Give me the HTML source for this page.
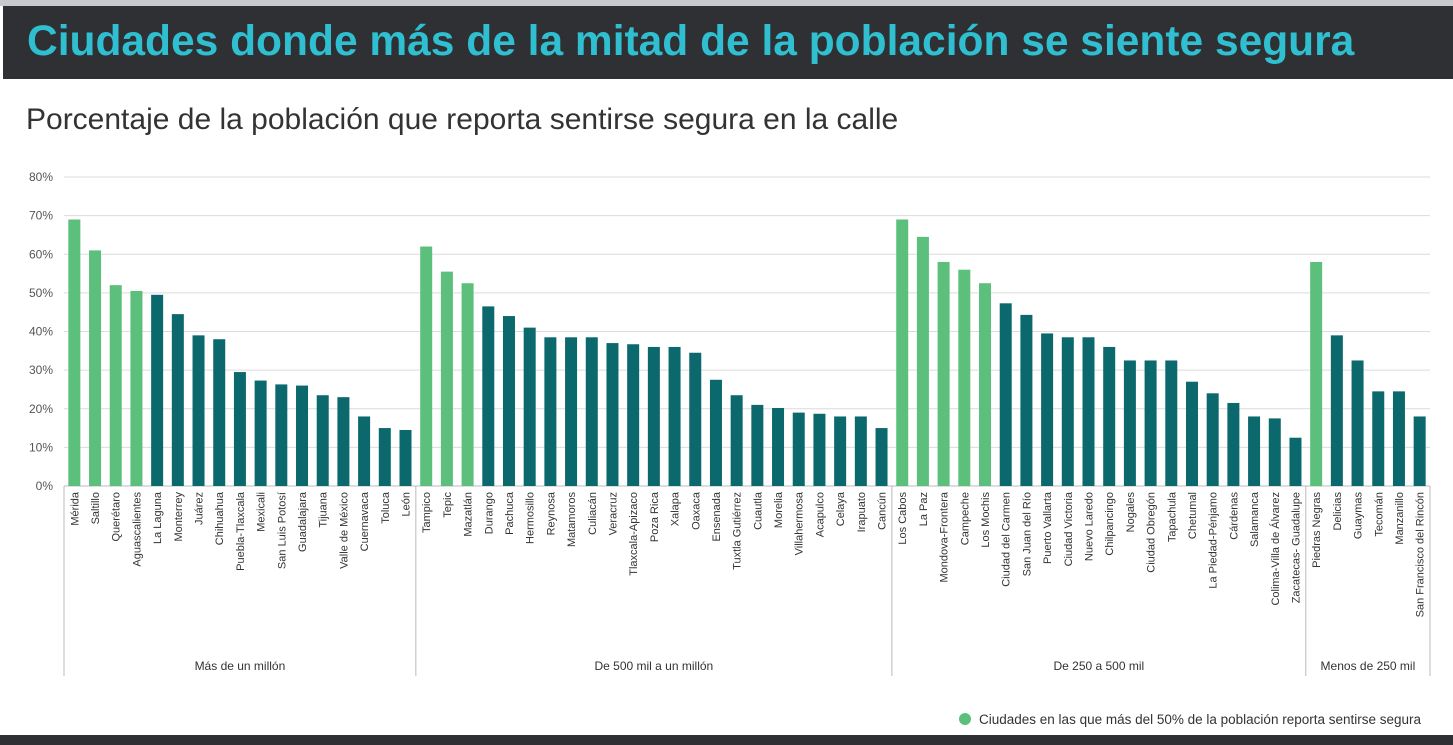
<!DOCTYPE html>
<html><head><meta charset="utf-8">
<style>
body{margin:0;width:1453px;height:745px;overflow:hidden;background:#fff;font-family:"Liberation Sans",sans-serif;position:relative}
#top{position:absolute;left:0;top:0;width:1453px;height:6px;background:#c8c9cb}
#hdr{position:absolute;left:3px;top:6px;width:1450px;height:73px;background:#2e3033}
#title{position:absolute;left:24px;top:12px;font-size:42.5px;font-weight:bold;color:#2fbfd0;white-space:nowrap}
#sub{position:absolute;left:26px;top:103px;font-size:30px;color:#333;white-space:nowrap}
#bot{position:absolute;left:0;top:735px;width:1453px;height:10px;background:#2e3033}
svg{position:absolute;left:0;top:0}
</style></head><body>
<div id="top"></div>
<div id="hdr"><div id="title">Ciudades donde más de la mitad de la población se siente segura</div></div>
<div id="sub">Porcentaje de la población que reporta sentirse segura en la calle</div>
<div id="bot"></div>
<svg id="chart" width="1453" height="745"></svg>
<script>
const groups=["Más de un millón","De 500 mil a un millón","De 250 a 500 mil","Menos de 250 mil"];
const cities1=["Mérida","Saltillo","Querétaro","Aguascalientes","La Laguna","Monterrey","Juárez","Chihuahua","Puebla-Tlaxcala","Mexicali","San Luis Potosí","Guadalajara","Tijuana","Valle de México","Cuernavaca","Toluca","León"];
const values1=[69,61,52,50.5,49.5,44.5,39,38,29.5,27.3,26.3,26,23.5,23,18,15,14.5];
const cities2=["Tampico","Tepic","Mazatlán","Durango","Pachuca","Hermosillo","Reynosa","Matamoros","Culiacán","Veracruz","Tlaxcala-Apizaco","Poza Rica","Xalapa","Oaxaca","Ensenada","Tuxtla Gutiérrez","Cuautla","Morelia","Villahermosa","Acapulco","Celaya","Irapuato","Cancún"];
const values2=[62,55.5,52.5,46.5,44,41,38.5,38.5,38.5,37,36.7,36,36,34.5,27.5,23.5,21,20.2,19,18.7,18,18,15];
const cities3=["Los Cabos","La Paz","Mondova-Frontera","Campeche","Los Mochis","Ciudad del Carmen","San Juan del Río","Puerto Vallarta","Ciudad Victoria","Nuevo Laredo","Chilpancingo","Nogales","Ciudad Obregón","Tapachula","Chetumal","La Piedad-Pénjamo","Cárdenas","Salamanca","Colima-Villa de Álvarez","Zacatecas- Guadalupe"];
const values3=[69,64.5,58,56,52.5,47.3,44.3,39.5,38.5,38.5,36,32.5,32.5,32.5,27,24,21.5,18,17.5,12.5];
const cities4=["Piedras Negras","Delicias","Guaymas","Tecomán","Manzanillo","San Francisco del Rincón"];
const values4=[58,39,32.5,24.5,24.5,18];
const yTicks=[0,10,20,30,40,50,60,70,80];
const legendText="Ciudades en las que más del 50% de la población reporta sentirse segura";

const NS="http://www.w3.org/2000/svg";
const svg=document.getElementById('chart');
const X0=64,X1=1430,Y0=486,Y80=177;
const cats=[cities1,cities2,cities3,cities4], vals=[values1,values2,values3,values4];
const total=cats.reduce((a,c)=>a+c.length,0);
const step=(X1-X0)/total;
const y=v=>Y0-(v/80)*(Y0-Y80);
function mk(t,a){const e=document.createElementNS(NS,t);for(const k in a)e.setAttribute(k,a[k]);svg.appendChild(e);return e;}
yTicks.forEach(t=>{
  const l=mk('line',{x1:X0,x2:X1,y1:y(t),y2:y(t),stroke:t===0?'#bbb':'#dcdcdc','stroke-width':1});
  
  
  const tx=mk('text',{x:53,y:y(t)+4,'text-anchor':'end','font-size':12,fill:'#555'});
  tx.textContent=t+'%';
  
  
});
let idx=0;
const bounds=[X0];
cats.forEach((cs,g)=>{
  const start=idx;
  cs.forEach((c,i)=>{
    const v=vals[g][i];
    const cx=X0+step*(idx+0.5);
    const r=mk('rect',{x:cx-6,y:y(v),width:12,height:Y0-y(v),fill:v>50?'#5cbf7b':'#0b686c'});
    
    
    const t=mk('text',{x:0,y:0,'font-size':11,fill:'#333','text-anchor':'end',transform:`translate(${cx+4},492) rotate(-90)`});
    t.textContent=c;
    
    
    idx++;
  });
  const xe=X0+step*idx;
  bounds.push(xe);
  const gt=mk('text',{x:(X0+step*start+xe)/2,y:670,'text-anchor':'middle','font-size':12,fill:'#333'});
  gt.textContent=groups[g];
  
  
});
bounds.forEach(b=>{
  const l=mk('line',{x1:b,x2:b,y1:Y0,y2:676,stroke:'#bbb','stroke-width':1});
  
  
});
const lc=mk('circle',{cx:965,cy:719,r:6,fill:'#5cbf7b'});


const lt=mk('text',{x:979,y:724,'font-size':13.5,fill:'#333'});
lt.textContent=legendText;


</script>
</body></html>
